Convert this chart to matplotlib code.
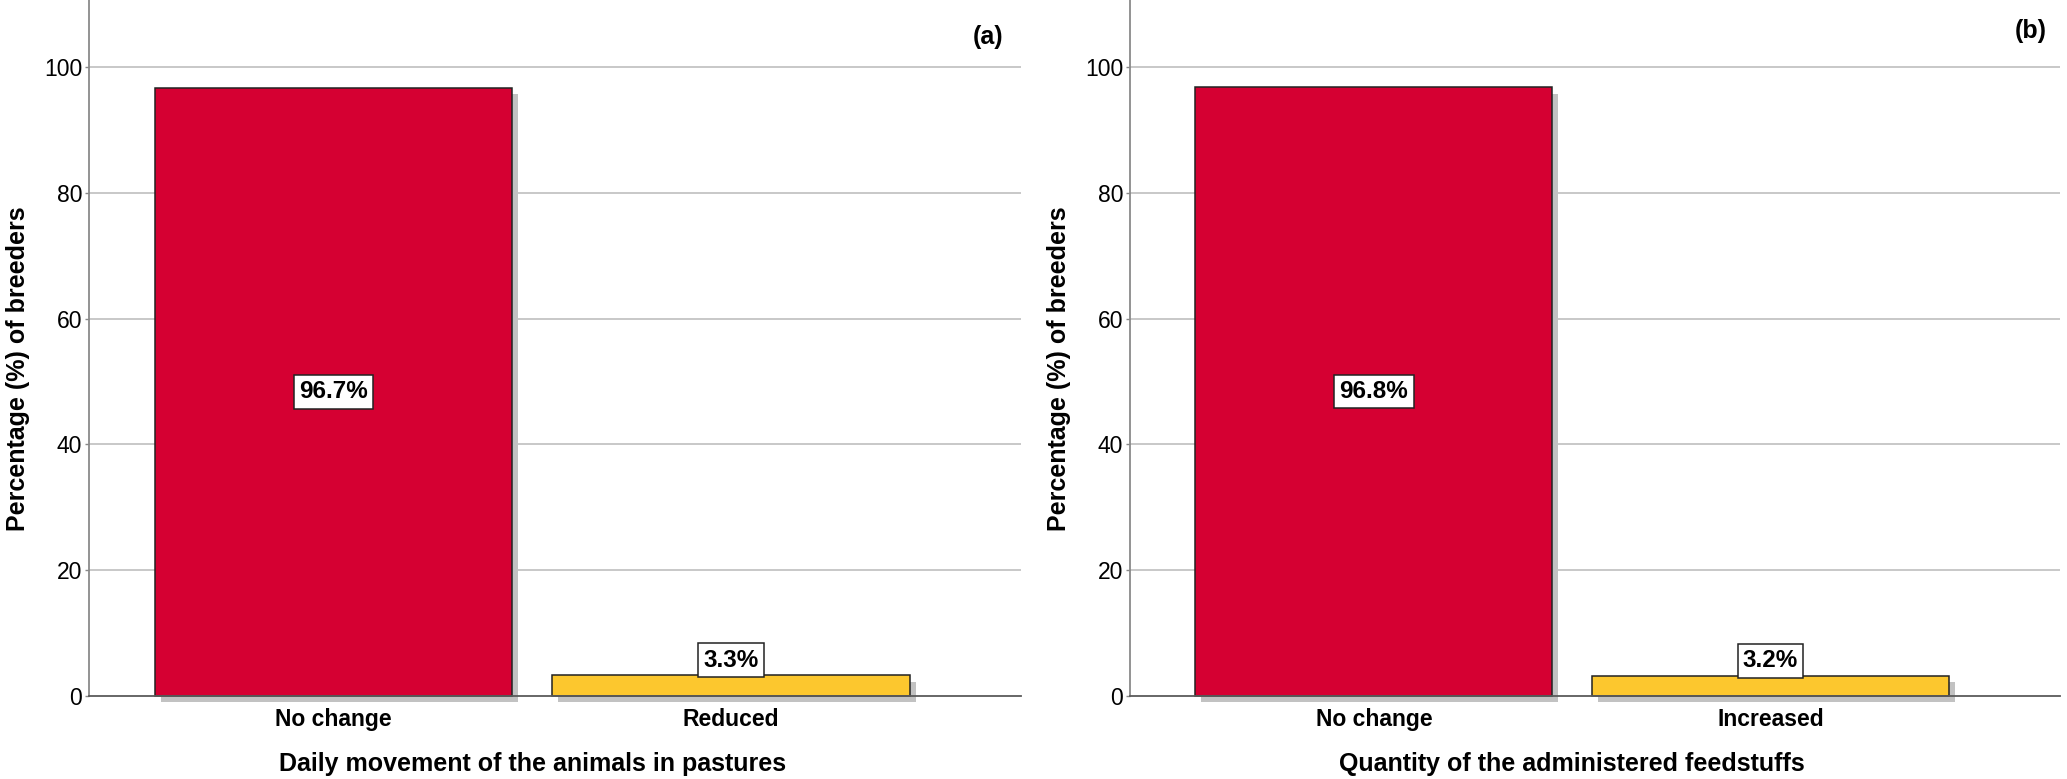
import matplotlib
matplotlib.use("Agg")
import matplotlib.pyplot as plt
import matplotlib.patheffects as pe
from matplotlib.transforms import blended_transform_factory

plt.rcParams['font.family'] = ['Liberation Sans', 'DejaVu Sans']

# ---- data ----
categories_a = ["No change", "Reduced"]
values_a = [96.7, 3.3]
xlabel_a = "Daily movement of the animals in pastures"
tag_a = "(a)"

categories_b = ["No change", "Increased"]
values_b = [96.8, 3.2]
xlabel_b = "Quantity of the administered feedstuffs"
tag_b = "(b)"

ylabel = "Percentage (%) of breeders"
yticks = [0, 20, 40, 60, 80, 100]
bar_colors = ["#D50032", "#FCC72E"]

W, H = 2067, 779
fig = plt.figure(figsize=(W / 100, H / 100), dpi=100)

def px_axes(x0, x1, y_bottom, y_top):
    return [x0 / W, 1 - y_bottom / H, (x1 - x0) / W, (y_bottom - y_top) / H]

panels = [
    (px_axes(89, 1021, 696, 0), categories_a, values_a, xlabel_a, tag_a, (0.981, 0.947)),
    (px_axes(1130, 2060, 696, 0), categories_b, values_b, xlabel_b, tag_b, (0.986, 0.955)),
]

for rect, cats, vals, xl, tag, tagpos in panels:
    ax = fig.add_axes(rect)
    xs = list(range(len(cats)))
    bars = ax.bar(xs, vals, width=0.90, color=bar_colors, edgecolor="#222222",
                  linewidth=1.1, zorder=2, clip_on=False)
    for b in bars:
        b.set_path_effects([pe.SimplePatchShadow(offset=(4.3, -4.6),
                                                 shadow_rgbFace="#c2c2c2", alpha=1.0),
                            pe.Normal()])
    ax.set_xlim(-0.615, 1.73)
    ax.set_ylim(0, 110.65)
    ax.set_yticks(yticks)
    ax.set_yticklabels([str(t) for t in yticks], fontsize=16.5)
    ax.set_xticks(xs)
    ax.set_xticklabels(cats, fontsize=16.5, fontweight="bold")
    ax.tick_params(axis="x", length=0, pad=8.5)
    ax.tick_params(axis="y", length=3, width=1, color="#888888", pad=2)
    for t in yticks[1:]:
        ax.axhline(t, color="#c8c8c8", linewidth=1.4, zorder=0)
    for s in ["top", "right"]:
        ax.spines[s].set_visible(False)
    ax.spines["left"].set_color("#8a8a8a")
    ax.spines["left"].set_linewidth(1.3)
    ax.spines["bottom"].set_color("#5a5a5a")
    ax.spines["bottom"].set_linewidth(1.3)
    ax.spines["bottom"].set_zorder(3)

    ax.set_ylabel(ylabel, fontsize=18, fontweight="bold", va="center")
    ax.yaxis.set_label_coords(-0.0765, 0.47)
    ax.set_xlabel(xl, fontsize=18, fontweight="bold", va="center")
    ax.xaxis.set_label_coords(0.5, -0.097,
                              transform=blended_transform_factory(ax.transData, ax.transAxes))

    for x, v in zip(xs, vals):
        box = dict(boxstyle="square,pad=0.22", facecolor="white",
                   edgecolor="#222222", linewidth=1.1)
        if v > 10:
            ax.text(x, v / 2, f"{v:.1f}%", ha="center", va="center", fontsize=17.5,
                    fontweight="bold", bbox=box, zorder=5)
        else:
            ax.annotate(f"{v:.1f}%", xy=(x, v), xytext=(0, 2.5), textcoords="offset points",
                        ha="center", va="bottom", fontsize=17.5, fontweight="bold",
                        bbox=box, zorder=5)

    ax.text(tagpos[0], tagpos[1], tag, transform=ax.transAxes, ha="right", va="center",
            fontsize=18, fontweight="bold")

fig.savefig("out.png", dpi=100)
